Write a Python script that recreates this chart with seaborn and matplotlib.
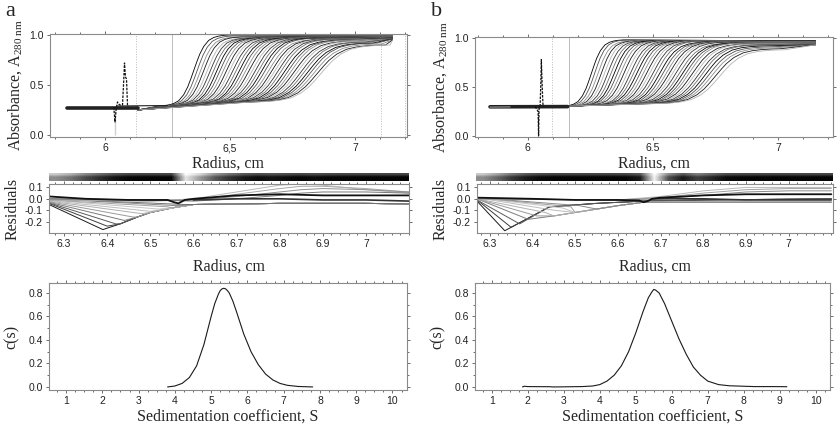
import numpy as np
import pandas as pd
import matplotlib
matplotlib.use("Agg")
import matplotlib.pyplot as plt
import seaborn as sns
from matplotlib.ticker import MultipleLocator, FixedLocator, FixedFormatter

# ---------------- data ----------------
# normalised boundary shape (offset in units of boundary width -> fraction of step)
template_off = [-3.5, -3.0, -2.5, -2.0, -1.5, -1.0, -0.6, -0.3, 0.0, 0.3, 0.6, 1.0, 1.5, 2.0, 2.5, 3.0, 3.5]
template_frac = [0.0, 0.005, 0.015, 0.035, 0.075, 0.16, 0.27, 0.38, 0.5, 0.62, 0.73, 0.84, 0.925, 0.965, 0.985, 0.995, 1.0]

# panel a scans: boundary midpoint, width, baseline, plateau, end value at cell bottom
mid_a = [6.355, 6.368, 6.381, 6.394, 6.407, 6.420, 6.433, 6.446, 6.459, 6.472,
         6.485, 6.498, 6.511, 6.524, 6.537, 6.550, 6.563, 6.576, 6.589, 6.602,
         6.615, 6.628, 6.641, 6.654, 6.667, 6.680, 6.693, 6.706, 6.719, 6.732,
         6.745, 6.758, 6.771, 6.784, 6.797, 6.810, 6.823, 6.836, 6.849, 6.864]
wid_a = [0.040, 0.041, 0.042, 0.043, 0.044, 0.045, 0.046, 0.047, 0.048, 0.049,
         0.050, 0.051, 0.052, 0.053, 0.054, 0.055, 0.056, 0.057, 0.058, 0.059,
         0.060, 0.061, 0.062, 0.063, 0.064, 0.065, 0.066, 0.067, 0.068, 0.069,
         0.070, 0.071, 0.072, 0.073, 0.074, 0.075, 0.076, 0.077, 0.078, 0.079]
base_a = [0.29, 0.29, 0.29, 0.295, 0.295, 0.30, 0.30, 0.30, 0.305, 0.305,
          0.305, 0.31, 0.31, 0.31, 0.31, 0.315, 0.315, 0.315, 0.315, 0.32,
          0.32, 0.32, 0.32, 0.32, 0.32, 0.325, 0.325, 0.325, 0.325, 0.325,
          0.325, 0.33, 0.33, 0.33, 0.33, 0.33, 0.33, 0.33, 0.33, 0.33]
plat_a = [1.00, 0.99, 0.98, 0.98, 0.97, 0.97, 0.97, 0.97, 0.97, 0.97,
          0.97, 0.97, 0.97, 0.97, 0.97, 0.97, 0.97, 0.97, 0.97, 0.97,
          0.97, 0.97, 0.97, 0.96, 0.96, 0.96, 0.96, 0.96, 0.95, 0.95,
          0.95, 0.94, 0.94, 0.93, 0.93, 0.92, 0.92, 0.91, 0.90, 0.90]
end_a = [1.00, 1.00, 0.99, 0.99, 0.99, 0.99, 0.98, 0.98, 0.98, 0.98,
         0.98, 0.98, 0.98, 0.98, 0.98, 0.98, 0.98, 0.98, 0.98, 0.98,
         0.98, 0.97, 0.97, 0.97, 0.97, 0.97, 0.97, 0.97, 0.97, 0.97,
         0.96, 0.96, 0.96, 0.96, 0.96, 0.96, 0.96, 0.95, 0.95, 0.95]

mid_b = [6.255, 6.268, 6.281, 6.294, 6.307, 6.320, 6.333, 6.346, 6.359, 6.372,
         6.385, 6.398, 6.411, 6.424, 6.437, 6.450, 6.463, 6.476, 6.489, 6.502,
         6.515, 6.528, 6.541, 6.554, 6.567, 6.580, 6.593, 6.606, 6.619, 6.632,
         6.645, 6.658, 6.671, 6.684, 6.697, 6.710, 6.723, 6.736, 6.750, 6.766]
wid_b = [0.036, 0.037, 0.038, 0.039, 0.040, 0.041, 0.042, 0.043, 0.044, 0.045,
         0.046, 0.047, 0.048, 0.049, 0.050, 0.051, 0.052, 0.053, 0.054, 0.055,
         0.056, 0.057, 0.058, 0.059, 0.060, 0.061, 0.062, 0.063, 0.064, 0.065,
         0.066, 0.067, 0.068, 0.069, 0.070, 0.071, 0.072, 0.073, 0.074, 0.075]
base_b = [0.30, 0.30, 0.30, 0.30, 0.305, 0.305, 0.305, 0.305, 0.31, 0.31,
          0.31, 0.31, 0.31, 0.315, 0.315, 0.315, 0.315, 0.315, 0.32, 0.32,
          0.32, 0.32, 0.32, 0.32, 0.325, 0.325, 0.325, 0.325, 0.325, 0.325,
          0.33, 0.33, 0.33, 0.33, 0.33, 0.33, 0.33, 0.33, 0.33, 0.33]
plat_b = [0.98, 0.98, 0.97, 0.97, 0.97, 0.97, 0.97, 0.97, 0.97, 0.97,
          0.97, 0.97, 0.97, 0.97, 0.97, 0.97, 0.97, 0.97, 0.97, 0.97,
          0.97, 0.96, 0.96, 0.96, 0.96, 0.96, 0.96, 0.95, 0.95, 0.95,
          0.95, 0.94, 0.94, 0.93, 0.93, 0.92, 0.91, 0.90, 0.89, 0.88]
end_b = [0.97, 0.97, 0.97, 0.97, 0.97, 0.97, 0.97, 0.97, 0.97, 0.97,
         0.97, 0.97, 0.97, 0.97, 0.97, 0.96, 0.96, 0.96, 0.96, 0.96,
         0.96, 0.96, 0.96, 0.96, 0.95, 0.95, 0.95, 0.95, 0.95, 0.95,
         0.95, 0.94, 0.94, 0.94, 0.94, 0.93, 0.93, 0.93, 0.93, 0.93]

# air / meniscus region
air_a_x = [5.85, 6.13]
air_a_y = [0.275, 0.275]
men_a_x = [6.035, 6.04, 6.04, 6.045, 6.05, 6.055, 6.06, 6.07, 6.075, 6.078, 6.082, 6.086, 6.09, 6.092]
men_a_y = [0.28, 0.26, 0.0, 0.27, 0.33, 0.31, 0.30, 0.30, 0.55, 0.72, 0.58, 0.56, 0.30, 0.28]
men_b_x = [6.03, 6.04, 6.042, 6.044, 6.046, 6.05, 6.053, 6.055, 6.057, 6.06, 6.062]
men_b_y = [0.30, 0.26, 0.25, 0.0, 0.28, 0.30, 0.55, 0.78, 0.62, 0.40, 0.30]
air_b_x = [5.85, 6.16]
air_b_y = [0.298, 0.30]

# fit-limit markers
vlines_a = [(6.124, ":"), (6.268, "-"), (7.104, ":"), (7.2, ":")]
vlines_b = [(6.096, ":"), (6.164, "-")]

# residuals, panel a
dip_a_x = [6.39, 6.40, 6.42, 6.44, 6.46, 6.48, 6.50, 6.52, 6.54, 6.56, 6.58]
dip_a_y = [-0.27, -0.24, -0.22, -0.19, -0.16, -0.13, -0.11, -0.09, -0.07, -0.06, -0.05]
start_a_y = [-0.05, -0.04, -0.035, -0.03, -0.025, -0.02, -0.015, -0.01, -0.01, 0.0, 0.0]
env_a_x = [6.43, 6.47, 6.50, 6.55, 6.60, 6.70, 6.80, 6.90, 7.00, 7.10]
env_a_y = [-0.22, -0.16, -0.12, -0.08, -0.05, -0.045, -0.04, -0.04, -0.04, -0.045]
hump_x = [6.268, 6.50, 6.60, 6.70, 6.80, 6.85, 6.90, 7.00, 7.10]
hump_a = [[-0.01, -0.02, 0.00, 0.06, 0.12, 0.13, 0.12, 0.08, 0.05],
          [-0.01, -0.02, -0.01, 0.04, 0.09, 0.11, 0.11, 0.09, 0.06],
          [0.00, -0.01, -0.01, 0.02, 0.06, 0.08, 0.09, 0.08, 0.06],
          [0.00, -0.01, -0.02, 0.00, 0.03, 0.05, 0.06, 0.06, 0.05]]
top_a_x = [6.268, 6.35, 6.45, 6.54, 6.555, 6.565, 6.58, 6.60, 6.70, 6.80, 6.90, 7.00, 7.10]
top_a_y = [0.02, 0.00, -0.01, -0.01, -0.03, -0.04, -0.01, 0.00, 0.03, 0.04, 0.03, 0.03, 0.03]
mid_line_a_x = [6.60, 6.70, 6.80, 6.90, 7.00, 7.10]
mid_line_a_y = [-0.01, 0.00, 0.00, -0.01, -0.01, -0.02]

# residuals, panel b
dip_b_x = [6.335, 6.35, 6.37, 6.39, 6.41, 6.43, 6.45, 6.47, 6.49, 6.51]
dip_b_y = [-0.28, -0.25, -0.22, -0.18, -0.15, -0.12, -0.10, -0.08, -0.07, -0.06]
start_b_y = [-0.02, -0.01, -0.01, 0.0, 0.0, 0.0, 0.01, 0.01, 0.01, 0.01]
ret_b = [0, 0, 0, 1, 1, 1, 1, 1, 1, 1]
ret_b0_x = [6.44, 6.55, 6.66, 6.80, 7.10]
ret_b0_y = [-0.07, -0.04, -0.02, -0.01, 0.00]
ret_b1_x = [6.45, 6.50, 6.55, 6.60, 6.66, 6.75, 6.90, 7.10]
ret_b1_y = [-0.15, -0.12, -0.09, -0.06, -0.03, -0.03, -0.03, -0.03]
hump_b_x = [6.27, 6.60, 6.70, 6.80, 6.90, 7.00, 7.10]
hump_b = [[0.00, -0.01, 0.02, 0.07, 0.10, 0.10, 0.10],
          [0.00, -0.01, 0.01, 0.05, 0.08, 0.09, 0.09],
          [0.00, -0.01, 0.00, 0.03, 0.06, 0.07, 0.07]]
top_b_x = [6.27, 6.40, 6.50, 6.60, 6.65, 6.66, 6.67, 6.68, 6.70, 6.80, 6.90, 7.00, 7.10]
top_b_y = [0.01, 0.00, -0.01, -0.01, -0.015, -0.03, -0.02, 0.00, 0.01, 0.03, 0.04, 0.04, 0.04]
mid_line_b_x = [6.68, 6.80, 6.90, 7.00, 7.10]
mid_line_b_y = [0.00, 0.00, -0.01, -0.01, -0.01]

# residual bitmap strip (grey level, 0 = black)
bar_a = [0.55, 0.45, 0.30, 0.18, 0.08, 0.03, 0.02, 0.02, 0.02, 0.90, 0.60, 0.35,
         0.20, 0.10, 0.05, 0.08, 0.05, 0.03, 0.05, 0.03, 0.02, 0.02, 0.02, 0.02, 0.02]
bar_b = [0.55, 0.40, 0.22, 0.10, 0.04, 0.02, 0.02, 0.02, 0.02, 0.02, 0.03, 0.10,
         0.95, 0.30, 0.10, 0.25, 0.15, 0.05, 0.03, 0.02, 0.02, 0.02, 0.02, 0.02, 0.02]

# c(s) distributions
s_a = [3.8, 4.0, 4.2, 4.4, 4.6, 4.8, 5.0, 5.1, 5.2, 5.25, 5.3, 5.35, 5.4, 5.45,
       5.5, 5.6, 5.7, 5.9, 6.1, 6.3, 6.5, 6.7, 6.9, 7.1, 7.4, 7.8]
c_a = [0.0, 0.008, 0.03, 0.08, 0.18, 0.36, 0.60, 0.71, 0.79, 0.82, 0.835, 0.84,
       0.835, 0.82, 0.80, 0.73, 0.64, 0.45, 0.30, 0.19, 0.11, 0.06, 0.03, 0.014, 0.004, 0.0]
s_b = [1.85, 1.9, 2.0, 2.6, 2.7, 3.0, 3.5, 3.8, 4.0, 4.2, 4.4, 4.6, 4.8, 5.0, 5.2, 5.35,
       5.45, 5.5, 5.55, 5.65, 5.8, 6.0, 6.2, 6.4, 6.6, 6.8, 7.0, 7.3, 7.6, 8.0, 8.3, 8.8, 9.2]
c_b = [0.0, 0.006, 0.003, 0.002, 0.0, 0.001, 0.003, 0.008, 0.02, 0.05, 0.10, 0.18, 0.30,
       0.46, 0.64, 0.76, 0.81, 0.83, 0.825, 0.80, 0.71, 0.56, 0.41, 0.28, 0.17, 0.10, 0.05,
       0.02, 0.01, 0.006, 0.003, 0.003, 0.002]

# ---------------- style ----------------
sns.set_theme(style="white")
plt.rcParams["font.family"] = ["Liberation Serif", "DejaVu Serif"]
plt.rcParams["mathtext.fontset"] = "custom"
plt.rcParams["mathtext.rm"] = "Liberation Serif"
plt.rcParams["mathtext.it"] = "Liberation Serif:italic"
plt.rcParams["axes.unicode_minus"] = False

W, H = 839, 428
fig = plt.figure(figsize=(W / 100, H / 100), dpi=100)


def rect(l, t, r, b):
    return [l / W, 1 - b / H, (r - l) / W, (b - t) / H]


SPINE = "#8a8a8a"
TICKFONT = dict(family="Liberation Sans", size=7.5)
LABFONT = 11.5
grays = ["#000000", "#505050", "#8c8c8c", "#1a1a1a", "#b4b4b4", "#333333", "#6e6e6e"]


def style_axes(ax):
    for sp in ax.spines.values():
        sp.set_color(SPINE)
        sp.set_linewidth(0.8)
        sp.set_visible(True)
    ax.tick_params(which="both", direction="out", color="#555555", width=0.6,
                   labelcolor="#222222", bottom=True, left=True, top=True, right=True,
                   labeltop=False, labelright=False, pad=2)
    ax.tick_params(which="major", length=2.5)
    ax.tick_params(which="minor", length=1.5)
    for lab in ax.get_xticklabels() + ax.get_yticklabels():
        lab.set_fontfamily(TICKFONT["family"])
        lab.set_fontsize(TICKFONT["size"])
    ax.grid(False)


def scans_frame(mid, wid, base, plat, end, x0, y0):
    rows = []
    for k in range(len(mid)):
        xs = [x0] + [mid[k] + o * wid[k] for o in template_off] + [7.15]
        ys = [y0] + [base[k] + (plat[k] - base[k]) * f for f in template_frac] + [end[k]]
        for x, y in zip(xs, ys):
            rows.append((k, x, y))
    return pd.DataFrame(rows, columns=["scan", "r", "A"])


def draw_scans(ax, df, n):
    pal = [grays[k % len(grays)] for k in range(n)]
    sns.lineplot(data=df, x="r", y="A", hue="scan", units="scan", estimator=None,
                 sort=False, palette=pal, legend=False, linewidth=0.6, ax=ax)


def top_panel(ax, mid, wid, base, plat, end, x0, y0, air_x, air_y, men_x, men_y,
              vlines, xlim, ylim, ticklabels):
    for xv, ls in vlines:
        ax.axvline(xv, color="#bbbbbb", lw=0.7, ls=ls, zorder=0)
    df = scans_frame(mid, wid, base, plat, end, x0, y0)
    draw_scans(ax, df, len(mid))
    sns.lineplot(x=air_x, y=air_y, color="#222222", lw=2.6, ax=ax, sort=False)
    sns.lineplot(x=men_x, y=men_y, color="#111111", lw=0.9, ls=(0, (2, 1)), ax=ax, sort=False)
    ax.set_xlim(*xlim)
    ax.set_ylim(*ylim)
    ax.xaxis.set_major_locator(FixedLocator([6, 6.5, 7]))
    ax.xaxis.set_major_formatter(FixedFormatter(ticklabels))
    ax.xaxis.set_minor_locator(MultipleLocator(0.1))
    ax.yaxis.set_major_locator(FixedLocator([0.0, 0.5, 1.0]))
    ax.set_yticklabels(["0.0", "0.5", "1.0"])
    ax.set_xlabel("Radius, cm", fontsize=LABFONT, labelpad=2)
    ax.set_ylabel(r"Absorbance, A$_{\mathrm{280\ nm}}$", fontsize=LABFONT, labelpad=4)
    style_axes(ax)


def resid_panel(ax, xlim, curves, labelpad=7):
    for xs, ys, col, lw in curves:
        sns.lineplot(x=xs, y=ys, color=col, lw=lw, ax=ax, sort=False)
    ax.set_xlim(*xlim)
    ax.set_ylim(-0.3, 0.13)
    ax.xaxis.set_major_locator(FixedLocator([6.3, 6.4, 6.5, 6.6, 6.7, 6.8, 6.9, 7.0]))
    ax.xaxis.set_major_formatter(FixedFormatter(["6.3", "6.4", "6.5", "6.6", "6.7", "6.8", "6.9", "7"]))
    ax.xaxis.set_minor_locator(MultipleLocator(0.02))
    ax.yaxis.set_major_locator(FixedLocator([-0.2, -0.1, 0.0, 0.1]))
    ax.yaxis.set_major_formatter(FixedFormatter(["-0.2", "-0.1", "0.0", "0.1"]))
    ax.set_xlabel("Radius, cm", fontsize=LABFONT, labelpad=labelpad)
    ax.set_ylabel("Residuals", fontsize=LABFONT, labelpad=3)
    style_axes(ax)


def cs_panel(ax, s, c):
    sns.lineplot(x=s, y=c, color="#1a1a1a", lw=0.8, ax=ax, sort=False)
    ax.set_xlim(0.53, 10.4)
    ax.set_ylim(-0.026, 0.885)
    ax.xaxis.set_minor_locator(MultipleLocator(0.25))
    ax.yaxis.set_minor_locator(MultipleLocator(0.1))
    ax.set_xticks(range(1, 11))
    ax.set_xticklabels([str(i) for i in range(1, 11)])
    ax.set_yticks([0.0, 0.2, 0.4, 0.6, 0.8])
    ax.set_yticklabels(["0.0", "0.2", "0.4", "0.6", "0.8"])
    ax.set_xlabel("Sedimentation coefficient, S", fontsize=LABFONT, labelpad=2)
    ax.set_ylabel("c(s)", fontsize=LABFONT, labelpad=6)
    style_axes(ax)


def bar_panel(ax, levels, xlim):
    arr = np.array([[min(v + 0.25, 1.0) for v in levels], levels, levels])
    ax.imshow(arr, cmap="gray", vmin=0, vmax=1, aspect="auto",
              extent=[xlim[0], xlim[1], 0, 1], interpolation="bilinear")
    ax.set_xticks([])
    ax.set_yticks([])
    for sp in ax.spines.values():
        sp.set_visible(False)


# ---------------- panel a ----------------
ax = fig.add_axes(rect(50, 34, 407, 137))
top_panel(ax, mid_a, wid_a, base_a, plat_a, end_a, 6.13, 0.25, air_a_x, air_a_y,
          men_a_x, men_a_y, vlines_a, (5.78, 7.208), (-0.02, 1.01), ["6", "6,5", "7"])
sns.lineplot(x=[6.05, 6.25], y=[0.29, 0.295], color="#222222", lw=0.8, ax=ax)

xl_a = (6.265, 7.1)
bar_panel(fig.add_axes(rect(49, 173, 409, 181)), bar_a, xl_a)
curves = []
rcol = ["#1a1a1a", "#3c3c3c", "#5a5a5a", "#7a7a7a", "#9a9a9a", "#b0b0b0", "#bcbcbc",
        "#c4c4c4", "#a0a0a0", "#888888", "#707070"]
for k in range(len(dip_a_x)):
    xs = [6.265, dip_a_x[k]] + [x for x in env_a_x if x > dip_a_x[k] + 0.005]
    ys = [start_a_y[k], dip_a_y[k]] + [y for x, y in zip(env_a_x, env_a_y) if x > dip_a_x[k] + 0.005]
    curves.append((xs, ys, rcol[k], 0.7))
for k, h in enumerate(hump_a):
    curves.append((hump_x, h, ["#b8b8b8", "#a8a8a8", "#909090", "#787878"][k], 0.7))
curves.append((mid_line_a_x, mid_line_a_y, "#333333", 1.2))
curves.append((top_a_x, top_a_y, "#111111", 1.3))
resid_panel(fig.add_axes(rect(49, 184, 409, 233)), xl_a, curves)

cs_panel(fig.add_axes(rect(49, 283, 407, 390)), s_a, c_a)

# ---------------- panel b ----------------
ax = fig.add_axes(rect(475, 37, 833, 137))
top_panel(ax, mid_b, wid_b, base_b, plat_b, end_b, 6.10, 0.30, air_b_x, air_b_y,
          men_b_x, men_b_y, vlines_b, (5.79, 7.22), (-0.01, 1.01), ["6", "6.5", "7"])
sns.lineplot(x=[5.85, 5.93], y=[0.295, 0.297], color="#999999", lw=0.8, ax=ax)
sns.lineplot(x=[6.565, 6.565], y=[0.33, 0.93], color="#cccccc", lw=0.6, ls=":", ax=ax)

xl_b = (6.27, 7.104)
bar_panel(fig.add_axes(rect(476, 173, 833, 181)), bar_b, xl_b)
curves = []
for k in range(len(dip_b_x)):
    rx, ry = (ret_b0_x, ret_b0_y) if ret_b[k] == 0 else (ret_b1_x, ret_b1_y)
    xs = [6.27, dip_b_x[k]] + [x for x in rx if x > dip_b_x[k] + 0.005]
    ys = [start_b_y[k], dip_b_y[k]] + [y for x, y in zip(rx, ry) if x > dip_b_x[k] + 0.005]
    curves.append((xs, ys, rcol[k], 0.7))
for k, h in enumerate(hump_b):
    curves.append((hump_b_x, h, ["#b8b8b8", "#a0a0a0", "#888888"][k], 0.7))
curves.append((mid_line_b_x, mid_line_b_y, "#333333", 1.2))
curves.append((top_b_x, top_b_y, "#111111", 1.3))
resid_panel(fig.add_axes(rect(477, 184, 833, 233)), xl_b, curves)

cs_panel(fig.add_axes(rect(475, 283, 830, 390)), s_b, c_b)

# panel letters
fig.text(10 / W, 1 - 12 / H, "a", fontsize=16, va="center", ha="center")
fig.text(437 / W, 1 - 12 / H, "b", fontsize=16, va="center", ha="center")

fig.savefig("out.png", dpi=100, facecolor="white")
